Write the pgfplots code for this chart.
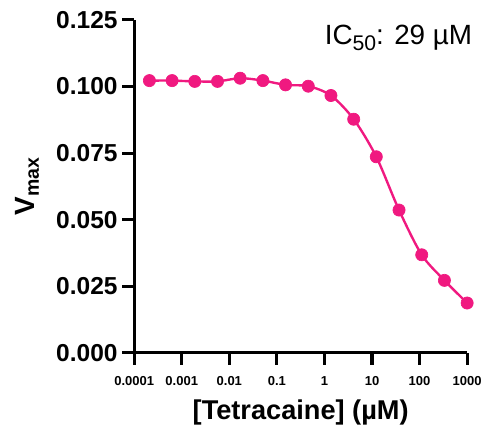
\documentclass[border=0pt]{standalone}
\usepackage{fontspec}
\setmainfont{Liberation Sans}
\usepackage{pgfplots}
\pgfplotsset{compat=1.18}
\definecolor{hotpink}{RGB}{240,25,128}

\begin{document}
\begin{tikzpicture}
\begin{axis}[
    scale only axis,
    width=251.25pt, height=251.25pt,
    xmode=log,
    xmin=1e-4, xmax=1000,
    ymin=0, ymax=0.125,
    axis lines=left,
    axis line style={-, line width=2.3pt},
    tick style={line width=2.3pt, black},
    tick align=outside,
    major tick length=9pt,
    xminorticks=false, yminorticks=false,
    xtick={1e-4,1e-3,1e-2,1e-1,1,10,100,1000},
    xticklabels={0.0001,0.001,0.01,0.1,1,10,100,1000},
    ytick={0,0.025,0.05,0.075,0.1,0.125},
    yticklabels={0.000,0.025,0.050,0.075,0.100,0.125},
    xticklabel style={font=\fontsize{9.8}{11}\selectfont\bfseries, yshift=-5.5pt},
    yticklabel style={font=\fontsize{18.5}{20}\selectfont\bfseries},
    xlabel={[Tetracaine] (µM)},
    ylabel={V\textsubscript{max}},
    xlabel style={font=\fontsize{20.5}{23}\selectfont\bfseries,
        at={(rel axis cs:0.5,-0.199)}, anchor=base},
    ylabel style={font=\fontsize{21}{23}\selectfont\bfseries,
        at={(rel axis cs:-0.2985,0.5)}, anchor=base},
    clip=false,
]

% 3-fold dilution series, fitted curve drawn smooth through points
\addplot[color=hotpink, line width=1.8pt, smooth, tension=0.5,
    mark=*, mark size=4.6pt, mark options={fill=hotpink, draw=hotpink, line width=0.5pt}]
coordinates {
    (0.000209, 0.1022)
    (0.000627, 0.1022)
    (0.00188, 0.1019)
    (0.00565, 0.1019)
    (0.0169, 0.1031)
    (0.0508, 0.1022)
    (0.152, 0.1006)
    (0.457, 0.1001)
    (1.37, 0.0966)
    (4.12, 0.0877)
    (12.3, 0.0736)
    (37.0, 0.0536)
    (111, 0.0368)
    (333, 0.0272)
    (1000, 0.0187)
};

\node[anchor=north east, font=\fontsize{21}{23}\selectfont, inner sep=0pt]
    at (rel axis cs:1,1) [xshift=4pt, yshift=-3.75pt]
    {IC\raisebox{-0.22em}{\fontsize{16}{18}\selectfont 50}: 29 µM};

% page frame, same margins as the reference
\path (rel axis cs:-0.403,-0.2269) rectangle (rel axis cs:1.0478,1.0597);
\end{axis}
\end{tikzpicture}
\end{document}
